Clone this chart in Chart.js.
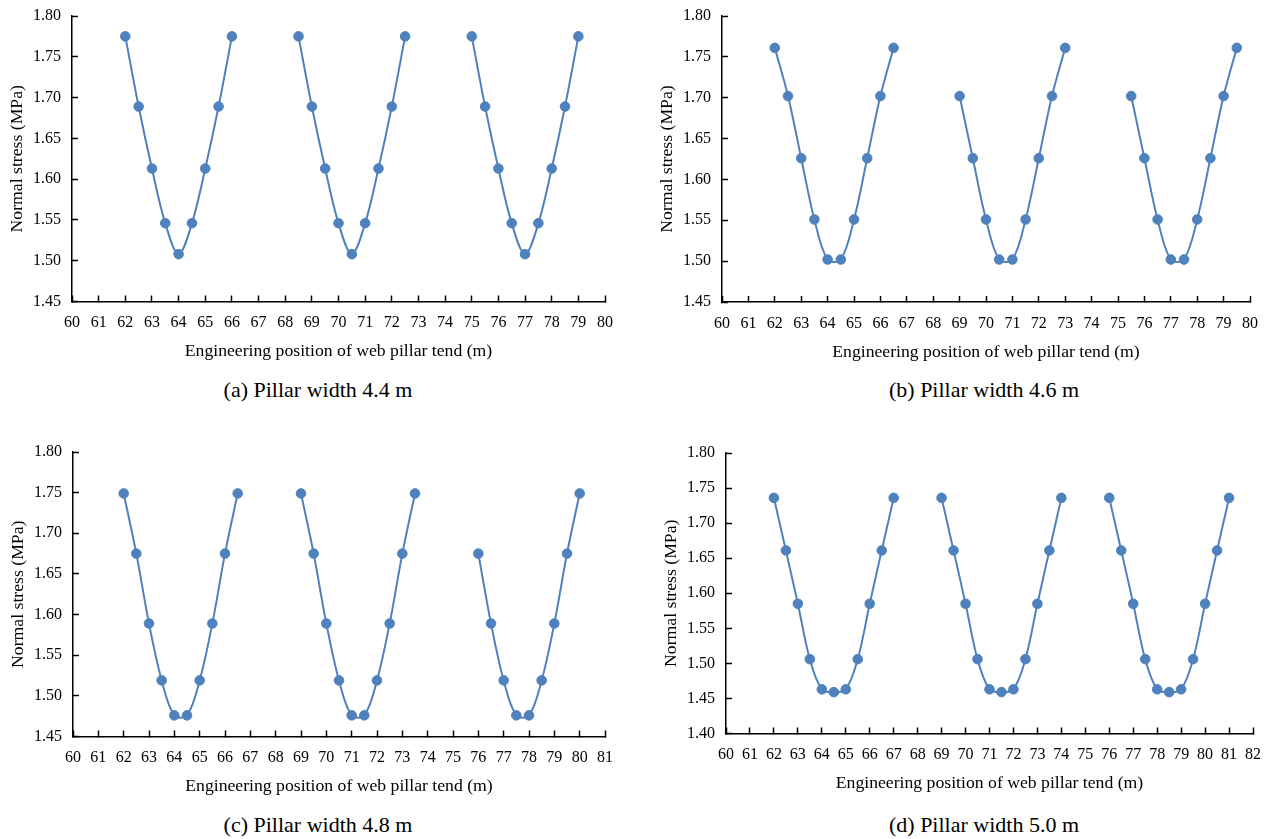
<!DOCTYPE html>
<html>
<head>
<meta charset="utf-8">
<title>Normal stress along the web pillar tend</title>
<script src="https://cdn.jsdelivr.net/npm/chart.js@4.4.0/dist/chart.umd.min.js"></script>
<style>
  html, body { margin: 0; padding: 0; background: #fff; overflow: hidden; }
  #wrap { position: relative; width: 1270px; height: 839px; }
  #wrap canvas { position: absolute; }
  .cap {
    position: absolute;
    font-family: "Liberation Serif", "Times New Roman", Times, "Nimbus Roman", "DejaVu Serif", serif;
    font-size: 22px;
    line-height: 1;
    white-space: nowrap;
    color: #000;
    transform: translate(-50%, -50%);
  }
</style>
</head>
<body>
<div id="wrap"></div>
<script>
// ---- Data: normal stress (MPa) at positions (m) along the tend, three troughs per pillar width ----

// (a) pillar width 4.4 m
const posA1 = [62, 62.5, 63, 63.5, 64, 64.5, 65, 65.5, 66];
const posA2 = [68.5, 69, 69.5, 70, 70.5, 71, 71.5, 72, 72.5];
const posA3 = [75, 75.5, 76, 76.5, 77, 77.5, 78, 78.5, 79];
const stressA1 = [1.775, 1.689, 1.613, 1.546, 1.508, 1.546, 1.613, 1.689, 1.775];
const stressA2 = [1.775, 1.689, 1.613, 1.546, 1.508, 1.546, 1.613, 1.689, 1.775];
const stressA3 = [1.775, 1.689, 1.613, 1.546, 1.508, 1.546, 1.613, 1.689, 1.775];

// (b) pillar width 4.6 m
const posB1 = [62, 62.5, 63, 63.5, 64, 64.5, 65, 65.5, 66, 66.5];
const posB2 = [69, 69.5, 70, 70.5, 71, 71.5, 72, 72.5, 73];
const posB3 = [75.5, 76, 76.5, 77, 77.5, 78, 78.5, 79, 79.5];
const stressB1 = [1.761, 1.702, 1.626, 1.551, 1.502, 1.502, 1.551, 1.626, 1.702, 1.761];
const stressB2 = [1.702, 1.626, 1.551, 1.502, 1.502, 1.551, 1.626, 1.702, 1.761];
const stressB3 = [1.702, 1.626, 1.551, 1.502, 1.502, 1.551, 1.626, 1.702, 1.761];

// (c) pillar width 4.8 m
const posC1 = [62, 62.5, 63, 63.5, 64, 64.5, 65, 65.5, 66, 66.5];
const posC2 = [69, 69.5, 70, 70.5, 71, 71.5, 72, 72.5, 73, 73.5];
const posC3 = [76, 76.5, 77, 77.5, 78, 78.5, 79, 79.5, 80];
const stressC1 = [1.749, 1.675, 1.589, 1.519, 1.476, 1.476, 1.519, 1.589, 1.675, 1.749];
const stressC2 = [1.749, 1.675, 1.589, 1.519, 1.476, 1.476, 1.519, 1.589, 1.675, 1.749];
const stressC3 = [1.675, 1.589, 1.519, 1.476, 1.476, 1.519, 1.589, 1.675, 1.749];

// (d) pillar width 5.0 m
const posD1 = [62, 62.5, 63, 63.5, 64, 64.5, 65, 65.5, 66, 66.5, 67];
const posD2 = [69, 69.5, 70, 70.5, 71, 71.5, 72, 72.5, 73, 73.5, 74];
const posD3 = [76, 76.5, 77, 77.5, 78, 78.5, 79, 79.5, 80, 80.5, 81];
const stressD1 = [1.736, 1.661, 1.585, 1.506, 1.463, 1.459, 1.463, 1.506, 1.585, 1.661, 1.736];
const stressD2 = [1.736, 1.661, 1.585, 1.506, 1.463, 1.459, 1.463, 1.506, 1.585, 1.661, 1.736];
const stressD3 = [1.736, 1.661, 1.585, 1.506, 1.463, 1.459, 1.463, 1.506, 1.585, 1.661, 1.736];

// Axis ranges [min, max]
const xRangeA = [60, 80], yRangeA = [1.45, 1.80];
const xRangeB = [60, 80], yRangeB = [1.45, 1.80];
const xRangeC = [60, 81], yRangeC = [1.45, 1.80];
const xRangeD = [60, 82], yRangeD = [1.40, 1.80];

// Text
const xTitle = 'Engineering position of web pillar tend (m)';
const yTitle = 'Normal stress (MPa)';
const captions = ['(a) Pillar width 4.4 m', '(b) Pillar width 4.6 m', '(c) Pillar width 4.8 m', '(d) Pillar width 5.0 m'];

// ---- Drawing ----
const SERIF = '"Liberation Serif", "Times New Roman", Times, "Nimbus Roman", "DejaVu Serif", serif';
const BLUE = '#4F81BD';
const Y_SCALE_W = 72;   // room for y tick labels and title
const PAD_TOP = 16;
const PAD_RIGHT = 15;
const TITLE_SIZE = 17.7;
const TICK_SIZE = 16;
const wrap = document.getElementById('wrap');

function segment(pos, stress) {
  return {
    data: pos.map((x, i) => ({ x: x, y: stress[i] })),
    borderColor: BLUE,
    backgroundColor: BLUE,
    borderWidth: 2,
    pointRadius: 4.8,
    pointBorderWidth: 1,
    pointBorderColor: BLUE,
    pointBackgroundColor: BLUE,
    tension: 0.35,
    fill: false
  };
}

function panel(box, xRange, yRange, segments, caption) {
  const canvasLeft = box.axisX - Y_SCALE_W;
  const canvasTop = box.top - PAD_TOP;
  const W = Math.round(box.right + PAD_RIGHT - canvasLeft);
  const H = Math.round(box.bottom - canvasTop + 64);
  const xH = H - (box.bottom - canvasTop);
  const lh = TITLE_SIZE * 1.2;

  const cv = document.createElement('canvas');
  cv.width = W; cv.height = H;
  cv.style.left = canvasLeft + 'px';
  cv.style.top = canvasTop + 'px';
  cv.style.width = W + 'px';
  cv.style.height = H + 'px';
  wrap.appendChild(cv);

  const axisLine = { display: true, color: '#000', width: 1.5 };
  const tickMarks = {
    display: true, drawOnChartArea: false, drawTicks: true,
    tickLength: -6, tickColor: '#000', tickWidth: 1.5
  };

  new Chart(cv.getContext('2d'), {
    type: 'line',
    data: { datasets: segments },
    options: {
      responsive: false,
      animation: false,
      devicePixelRatio: 1,
      layout: { padding: { left: 0, top: PAD_TOP, right: PAD_RIGHT, bottom: 0 } },
      plugins: { legend: { display: false }, tooltip: { enabled: false } },
      scales: {
        x: {
          type: 'linear', position: 'bottom',
          min: xRange[0], max: xRange[1],
          ticks: {
            stepSize: 1, autoSkip: false, maxRotation: 0, padding: 18,
            color: '#000', font: { family: SERIF, size: TICK_SIZE },
            callback: v => String(v)
          },
          grid: tickMarks,
          border: axisLine,
          title: {
            display: true, text: xTitle, color: '#000',
            font: { family: SERIF, size: TITLE_SIZE },
            padding: { top: 0, bottom: xH - 50 - lh / 2 }
          },
          afterFit: s => {
            s.height = xH;
            s.paddingLeft = 0;
            s.paddingRight = 0;
          }
        },
        y: {
          type: 'linear', position: 'left',
          min: yRange[0], max: yRange[1],
          ticks: {
            stepSize: 0.05, padding: 17,
            color: '#000', font: { family: SERIF, size: TICK_SIZE },
            callback: v => Number(v).toFixed(2)
          },
          grid: tickMarks,
          border: axisLine,
          title: {
            display: true, text: yTitle, color: '#000',
            font: { family: SERIF, size: TITLE_SIZE },
            padding: { top: 17 - lh / 2, bottom: 0 }
          },
          afterFit: s => {
            s.width = Y_SCALE_W;
            s.paddingTop = 0;
            s.paddingBottom = 0;
          }
        }
      }
    }
  });

  const cap = document.createElement('div');
  cap.className = 'cap';
  cap.textContent = caption;
  cap.style.left = box.capX + 'px';
  cap.style.top = box.capY + 'px';
  wrap.appendChild(cap);
}

panel({ axisX: 72, top: 16, right: 605, bottom: 301.5, capX: 318, capY: 390 },
  xRangeA, yRangeA,
  [segment(posA1, stressA1), segment(posA2, stressA2), segment(posA3, stressA3)], captions[0]);

panel({ axisX: 722, top: 16, right: 1250, bottom: 302, capX: 984, capY: 390 },
  xRangeB, yRangeB,
  [segment(posB1, stressB1), segment(posB2, stressB2), segment(posB3, stressB3)], captions[1]);

panel({ axisX: 73, top: 452, right: 605, bottom: 736.5, capX: 318, capY: 825 },
  xRangeC, yRangeC,
  [segment(posC1, stressC1), segment(posC2, stressC2), segment(posC3, stressC3)], captions[2]);

panel({ axisX: 726, top: 453, right: 1253, bottom: 733.5, capX: 984, capY: 825 },
  xRangeD, yRangeD,
  [segment(posD1, stressD1), segment(posD2, stressD2), segment(posD3, stressD3)], captions[3]);
</script>
</body>
</html>
